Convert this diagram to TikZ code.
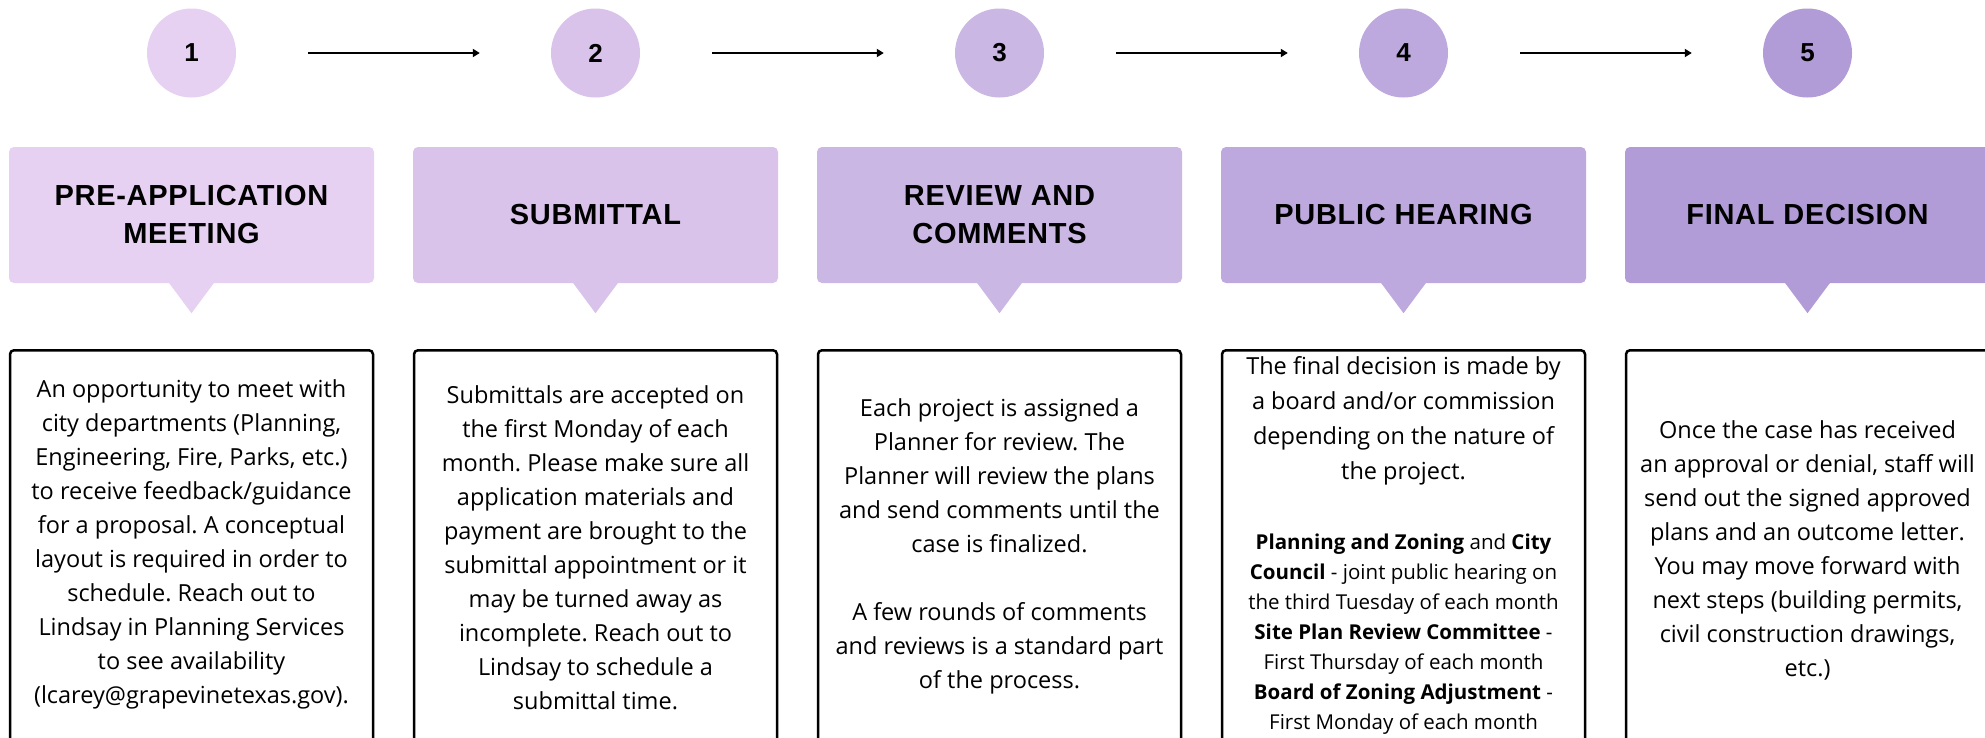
\documentclass[tikz,border=0pt]{standalone}
\usepackage{fontspec}
\setmainfont{Open Sans}
\newfontfamily\headfont{Liberation Sans}
\newfontfamily\headfontsp[LetterSpace=2.5]{Liberation Sans}
\usetikzlibrary{arrows.meta}
\definecolor{p1}{HTML}{E6D1F2}
\definecolor{p2}{HTML}{D9C3EA}
\definecolor{p3}{HTML}{CBB7E4}
\definecolor{p4}{HTML}{BEA9DE}
\definecolor{p5}{HTML}{B19CD7}
\frenchspacing
\begin{document}
\begin{tikzpicture}[x=1pt,y=-1pt,
  num/.style={circle, minimum size=89pt, inner sep=0pt, font=\headfont\bfseries\fontsize{26}{26}\selectfont},
  head/.style={rectangle, rounded corners=5pt, minimum width=365pt, minimum height=136pt, inner sep=0pt, align=center, font=\headfontsp\bfseries\fontsize{29}{38}\selectfont},
  tbox/.style={draw=black, line width=2.5pt, rounded corners=4pt, minimum width=363pt, minimum height=420pt, anchor=north, inner sep=0pt},
  body/.style={align=center, font=\fontsize{23.5}{34}\selectfont, inner sep=0pt},
  small/.style={align=center, font=\fontsize{20.5}{30}\selectfont, inner sep=0pt},
  flow/.style={-{Triangle[length=7pt,width=8pt]}, line width=2pt, shorten <=72pt, shorten >=71pt}
]
\useasboundingbox (0,0) rectangle (1985,737);
\clip (0,0) rectangle (1985,737);
\fill[white] (0,0) rectangle (1985,737);

% number circles
\node[num, fill=p1] (c1) at (191.5,53) {1};
\node[num, fill=p2] (c2) at (595.5,53) {2};
\node[num, fill=p3] (c3) at (999.5,53) {3};
\node[num, fill=p4] (c4) at (1403.5,53) {4};
\node[num, fill=p5] (c5) at (1807.5,53) {5};

\draw[flow] (c1) -- (c2);
\draw[flow] (c2) -- (c3);
\draw[flow] (c3) -- (c4);
\draw[flow] (c4) -- (c5);

% header boxes
\node[head, fill=p1] (h1) at (191.5,215) {PRE-APPLICATION\\MEETING};
\node[head, fill=p2] (h2) at (595.5,215) {SUBMITTAL};
\node[head, fill=p3] (h3) at (999.5,215) {REVIEW AND\\COMMENTS};
\node[head, fill=p4] (h4) at (1403.5,215) {PUBLIC HEARING};
\node[head, fill=p5] (h5) at (1807.5,215) {FINAL DECISION};

\foreach \i/\c in {1/p1,2/p2,3/p3,4/p4,5/p5}{
  \fill[\c] ([xshift=-23pt,yshift=1pt]h\i.south) -- ([xshift=23pt,yshift=1pt]h\i.south) -- ([yshift=-30pt]h\i.south) -- cycle;
}

% text boxes
\node[tbox] (t1) at (191.5,349) {};
\node[tbox] (t2) at (595.5,349) {};
\node[tbox] (t3) at (999.5,349) {};
\node[tbox] (t4) at (1403.5,349) {};
\node[tbox] (t5) at (1807.5,349) {};

\node[body] (d1) at (191.5,544) {An opportunity to meet with\\city departments (Planning,\\Engineering, Fire, Parks, etc.)\\to receive feedback/guidance\\for a proposal. A conceptual\\layout is required in order to\\schedule. Reach out to\\Lindsay in Planning Services\\to see availability\\(lcarey@grapevinetexas.gov).};
\node[body] (d2) at (595.5,548) {Submittals are accepted on\\the first Monday of each\\month. Please make sure all\\application materials and\\payment are brought to the\\submittal appointment or it\\may be turned away as\\incomplete. Reach out to\\Lindsay to schedule a\\submittal time.};
\node[body] (d3) at (999.5,546) {Each project is assigned a\\Planner for review. The\\Planner will review the plans\\and send comments until the\\case is finalized.\\[34pt]A few rounds of comments\\and reviews is a standard part\\of the process.};
\node[body, font=\fontsize{23.5}{35}\selectfont] (d4a) at (1403.5,421) {The final decision is made by\\a board and/or commission\\depending on the nature of\\the project.};
\node[small] (d4b) at (1403.5,634) {\textbf{Planning and Zoning} and \textbf{City}\\\textbf{Council} - joint public hearing on\\the third Tuesday of each month\\\textbf{Site Plan Review Committee} -\\First Thursday of each month\\\textbf{Board of Zoning Adjustment} -\\First Monday of each month};
\node[body] (d5) at (1807.5,550) {Once the case has received\\an approval or denial, staff will\\send out the signed approved\\plans and an outcome letter.\\You may move forward with\\next steps (building permits,\\civil construction drawings,\\etc.)};
\end{tikzpicture}
\end{document}
